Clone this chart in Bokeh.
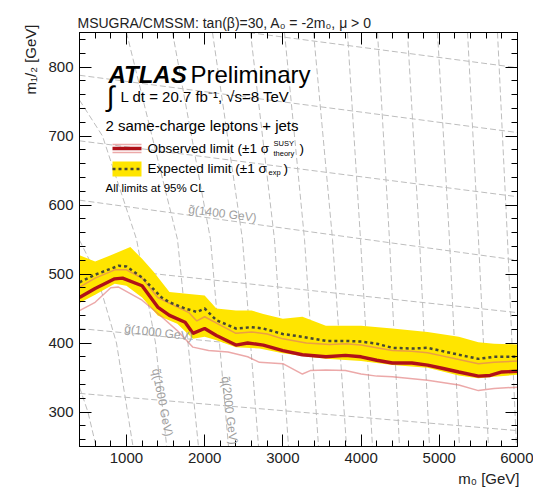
import math
from bokeh.plotting import figure
from bokeh.models import Range1d, LinearAxis, FixedTicker, Label, Title
from bokeh.embed import file_html
from bokeh.resources import INLINE

# ---------------- data (m0, m1/2 in GeV) ----------------
obs_m0 = [400, 600, 850, 950, 1200, 1400, 1550, 1750, 1850, 2000, 2150, 2400, 2550, 2750, 3000,
          3250, 3550, 3800, 4000, 4200, 4400, 4650, 4850, 5050, 5250, 5500, 5650, 5800, 6000]
obs_m12 = [466, 479, 493, 494, 483, 452, 440, 430, 414, 421, 411, 397, 400, 397, 389,
           383, 380, 382, 380, 375, 371, 371, 368, 363, 358, 352, 353, 358, 359]

obs_up_m0 = [400, 600, 850, 1000, 1200, 1400, 1600, 1800, 1900, 2000, 2200, 2400, 2600, 2800,
             3000, 3300, 3600, 3800, 4000, 4200, 4400, 4650, 4850, 5050, 5250, 5500, 5700, 6000]
obs_up_m12 = [481, 494, 506, 506, 494, 466, 455, 444, 432, 438, 426, 414, 416, 413,
              406, 400, 398, 399, 397, 393, 389, 388, 386, 381, 376, 370, 372, 374]

obs_dn_m0 = [400, 600, 800, 900, 1200, 1450, 1650, 1850, 2050, 2300, 2550, 2700, 3000, 3250,
             3350, 3550, 3800, 4000, 4200, 4400, 4850, 5250, 5500, 5700, 6000]
obs_dn_m12 = [447, 459, 480, 481, 462, 438, 418, 394, 389, 387, 380, 372, 370, 355,
              360, 361, 360, 355, 352, 351, 346, 339, 331, 334, 336]

exp_m0 = [400, 600, 900, 1000, 1200, 1450, 1550, 1750, 1900, 2000, 2150, 2400, 2600, 2750,
          3000, 3250, 3550, 3800, 4000, 4200, 4400, 4650, 4850, 5050, 5250, 5500, 5700, 6000]
exp_m12 = [488, 499, 512, 511, 495, 466, 459, 450, 445, 450, 433, 421, 423, 421,
           413, 409, 403, 403, 402, 399, 393, 392, 393, 388, 383, 377, 380, 380]

band_hi_m0 = [400, 600, 800, 1050, 1200, 1350, 1550, 1800, 2000, 2150, 2400, 2600, 2750, 3000,
              3250, 3550, 4000, 4400, 4850, 5250, 5500, 5700, 6000]
band_hi_m12 = [527, 518, 527, 539, 522, 503, 474, 471, 469, 450, 447, 447, 442, 435,
               438, 425, 425, 421, 416, 409, 401, 399, 398]
band_lo_m0 = [400, 600, 850, 1000, 1200, 1400, 1650, 1850, 2000, 2150, 2400, 2700, 3000, 3250,
              3550, 4000, 4400, 4850, 5250, 5500, 5700, 6000]
band_lo_m12 = [458, 470, 486, 483, 466, 440, 428, 406, 409, 404, 394, 392, 385, 381,
               377, 374, 368, 364, 353, 349, 351, 354]

# iso-mass contours: gluino (near horizontal) and squark (near vertical)
gluino_masses = [800, 1000, 1200, 1400, 1600, 1800, 2000]
gluino_m0 = [[400, 6000]] * 7
gluino_m12 = [[327, 273], [421, 360], [512, 444], [607, 520], [693, 612], [788, 705], [882, 799]]

squark_m0 = [
    [400, 508, 612],
    [400, 616, 873, 1084],
    [400, 694, 1130, 1372, 1515],
    [1001, 1653, 1921],
    [1589, 2075, 2305],
    [2100, 2484, 2689],
    [2586, 2893, 3072],
    [3021, 3277, 3456],
    [3392, 3635, 3814],
    [3826, 3993, 4146],
    [4210, 4363, 4491],
    [4593, 4747, 4875],
    [4977, 5130, 5258],
    [5361, 5501, 5629],
    [5744, 5872, 5987],
]
squark_m12 = [
    [336, 300, 250],
    [549, 500, 400, 250],
    [752, 700, 550, 400, 250],
] + [[850, 550, 250]] * 12

x_major = [1000, 2000, 3000, 4000, 5000, 6000]
x_minor = list(range(400, 6001, 200))
y_major = [300, 400, 500, 600, 700, 800]
y_minor = list(range(260, 850, 20))

# ---------------- layout ----------------
X0, X1, Y0, Y1 = 400, 6000, 250, 850
W, H = 533, 492
FL, FR, FT, FB = 79, 517, 32, 446


def X(px):
    return X0 + (px - FL) * (X1 - X0) / (FR - FL)


def Y(py):
    return Y1 - (py - FT) * (Y1 - Y0) / (FB - FT)


FONT = "Liberation Sans"

p = figure(width=W, height=H, x_range=Range1d(X0, X1), y_range=Range1d(Y0, Y1),
           output_backend="svg", toolbar_location=None,
           min_border_left=FL, min_border_right=W - FR, min_border_top=FT, min_border_bottom=H - FB,
           x_axis_location=None, y_axis_location=None)
p.grid.visible = False
p.outline_line_color = "black"
p.outline_line_width = 1
p.background_fill_color = "white"
p.border_fill_color = "white"

p.title.text = "MSUGRA/CMSSM: tan(\u03b2)=30, A\u2080 = -2m\u2080, \u03bc > 0"
p.title.align = "left"
p.title.offset = -2
p.title.text_font = FONT
p.title.text_font_size = "14px"
p.title.text_font_style = "normal"
p.title.text_color = "#222222"
p.title.standoff = 4


def make_axis(ticks, minor, labels=True):
    ax = LinearAxis(ticker=FixedTicker(ticks=ticks, minor_ticks=minor))
    ax.major_tick_in = 12
    ax.major_tick_out = 0
    ax.minor_tick_in = 6
    ax.minor_tick_out = 0
    ax.axis_line_color = "black"
    ax.major_tick_line_color = "black"
    ax.minor_tick_line_color = "black"
    ax.major_label_text_font = FONT
    ax.major_label_text_font_size = "15px"
    ax.major_label_text_color = "#222222"
    ax.major_label_standoff = 6
    if not labels:
        ax.major_label_overrides = {t: "" for t in ticks}
        ax.major_label_text_font_size = "0px"
        ax.major_label_standoff = 0
    return ax


p.add_layout(make_axis(x_major, x_minor), "below")
p.add_layout(make_axis(y_major, y_minor), "left")
p.add_layout(make_axis(x_major, x_minor, labels=False), "above")
p.add_layout(make_axis(y_major, y_minor, labels=False), "right")

p.add_layout(Title(text="m\u2080 [GeV]", align="right", text_font=FONT, text_font_size="15px",
                   text_font_style="normal", text_color="#222222", standoff=5, offset=-2), "below")
p.add_layout(Title(text="m\u2081/\u2082 [GeV]", align="right", text_font=FONT, text_font_size="15px",
                   text_font_style="normal", text_color="#222222", standoff=14, offset=-8), "left")

GRAY = "#bdbdbd"
for xs, ys in zip(gluino_m0, gluino_m12):
    p.line(xs, ys, line_color=GRAY, line_width=1, line_dash="6 3")
for xs, ys in zip(squark_m0, squark_m12):
    p.line(xs, ys, line_color=GRAY, line_width=1, line_dash="6 3")

YELLOW = "#ffe500"
RED = "#b01018"
PINK = "#e07070"
DASHC = "#474733"

p.patch(band_hi_m0 + band_lo_m0[::-1], band_hi_m12 + band_lo_m12[::-1],
        fill_color=YELLOW, line_color=None)
p.line(obs_dn_m0, obs_dn_m12, line_color=PINK, line_alpha=0.6, line_width=1.5)
p.line(obs_up_m0, obs_up_m12, line_color=PINK, line_alpha=0.6, line_width=1.5)
p.line(exp_m0, exp_m12, line_color=DASHC, line_width=2.5, line_dash="3 3")
p.line(obs_m0, obs_m12, line_color=RED, line_width=3.4)


def lab(px, py, text, size, color="black", style="normal", align="left", baseline="middle", angle=0.0):
    p.add_layout(Label(x=X(px), y=Y(py), text=text, text_font=FONT, text_font_size=f"{size}px",
                       text_color=color, text_font_style=style, text_align=align,
                       text_baseline=baseline, angle=angle))


# contour labels
lab(222, 213, "g\u0303(1400 GeV)", 12, color="#a0a0a0", align="center", angle=-0.13)
lab(158, 332, "g\u0303(1000 GeV)", 12, color="#a0a0a0", align="center", angle=-0.12)
lab(162, 402, "q\u0303(1600 GeV)", 12, color="#a0a0a0", align="center", angle=-1.38)
lab(229, 410, "q\u0303(2000 GeV)", 12, color="#a0a0a0", align="center", angle=-1.45)

# ATLAS block
lab(108, 74, "ATLAS", 24, style="bold italic", baseline="alphabetic")
lab(190, 74, "Preliminary", 24, baseline="alphabetic")
lab(110, 96, "\u222b", 28, align="center")
lab(120, 96, "L dt = 20.7 fb\u207b\u00b9, \u221as=8 TeV", 15)
lab(105, 125, "2 same-charge leptons + jets", 15)

# legend entries
for yy, col, lw in [(144, PINK, 1.5), (152, PINK, 1.5), (148, RED, 3.4)]:
    p.line([X(112), X(141)], [Y(yy), Y(yy)], line_color=col, line_width=lw,
           line_alpha=0.6 if col == PINK else 1.0)
lab(147, 148, "Observed limit (\u00b11 \u03c3", 13.5)
lab(273, 143, "SUSY", 7.5)
lab(273, 153, "theory", 7.5)
lab(299, 148, ")", 13.5)

p.quad(left=X(112), right=X(141), top=Y(161), bottom=Y(176), fill_color=YELLOW, line_color=None)
p.line([X(112), X(141)], [Y(168.5), Y(168.5)], line_color=DASHC, line_width=2.5, line_dash="3 3")
lab(147, 168, "Expected limit (\u00b11 \u03c3", 13.5)
lab(268, 172, "exp", 7.5)
lab(283, 168, ")", 13.5)

lab(105, 187, "All limits at 95% CL", 11.5)

open("out.html", "w").write(file_html(p, INLINE))
